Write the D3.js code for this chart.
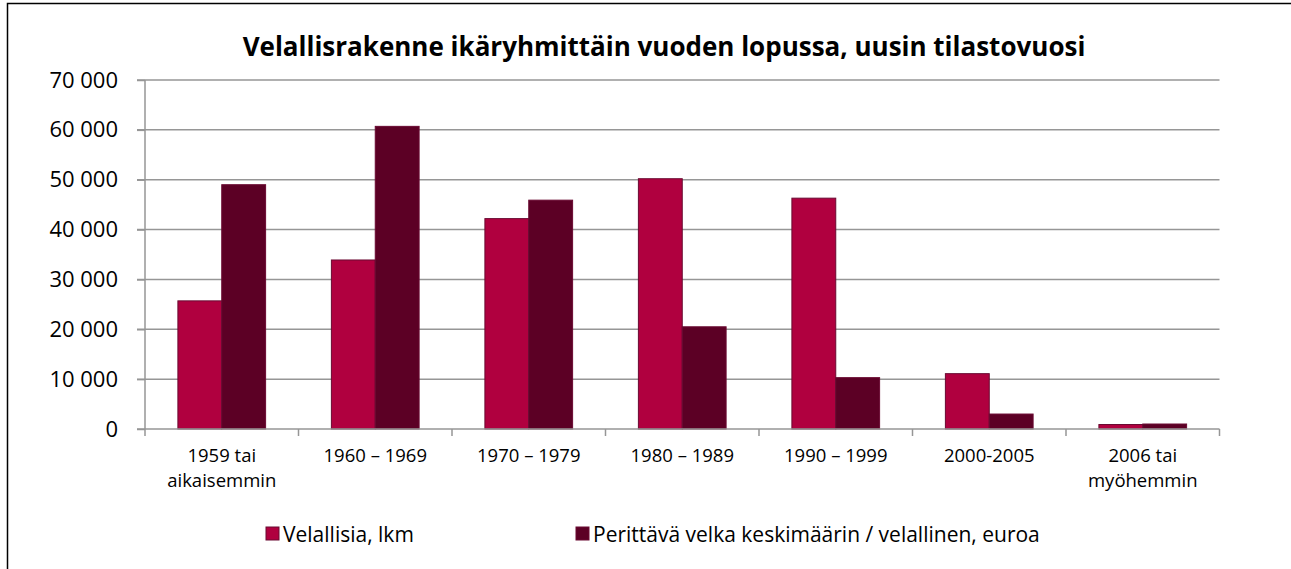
<!DOCTYPE html>
<html><head><meta charset="utf-8">
<script src="https://cdn.jsdelivr.net/npm/d3@7"></script>
<style>body{margin:0;background:#fff}svg{display:block}text{font-family:"Open Sans",sans-serif;fill:#000}</style>
</head><body>
<script>
const title = "Velallisrakenne ikäryhmittäin vuoden lopussa, uusin tilastovuosi";
const categories = [["1959 tai","aikaisemmin"],["1960 – 1969"],["1970 – 1979"],["1980 – 1989"],["1990 – 1999"],["2000-2005"],["2006 tai","myöhemmin"]];
const seriesNames = ["Velallisia, lkm","Perittävä velka keskimäärin / velallinen, euroa"];
const velallisia = [25700, 33900, 42200, 50200, 46300, 11100, 900];
const velka = [49000, 60700, 45900, 20500, 10300, 3000, 1000];
const yTicks = [0,10000,20000,30000,40000,50000,60000,70000];
const colors = ["#B0003F","#5C0025"];

(function(){
const W=1291,H=569;
const svg=d3.select("body").append("svg").attr("width",W).attr("height",H);
svg.append("rect").attr("x",7.5).attr("y",3.5).attr("width",W+10).attr("height",H+10).attr("fill","#fff").attr("stroke","#000").attr("stroke-width",1.5);

const pL=145,pR=1219.5,pT=80,pB=429;
const x=d3.scaleBand().domain(d3.range(categories.length)).range([pL,pR]).paddingInner(0).paddingOuter(0);
const bw=x.bandwidth()/3.5;
const y=d3.scaleLinear().domain([0,70000]).range([pB,pT]);

svg.append("g").selectAll("line").data(yTicks.slice(1)).join("line")
 .attr("x1",pL-8).attr("x2",pR).attr("y1",d=>y(d)).attr("y2",d=>y(d))
 .attr("stroke","#969696").attr("stroke-width",1.5);

const series=[velallisia,velka];
series.forEach((vals,si)=>{
  svg.append("g").selectAll("rect").data(vals).join("rect")
   .attr("x",(d,i)=>x(i)+bw*0.75+si*bw).attr("width",bw)
   .attr("y",d=>y(d)).attr("height",d=>pB-y(d))
   .attr("fill",colors[si]).attr("stroke","#6a0a32").attr("stroke-width",1);
});

const yAxis=d3.axisLeft(y).tickValues(yTicks).tickSize(8).tickPadding(19)
 .tickFormat(d=>d3.format(",")(d).replace(/,/g," "));
const ya=svg.append("g").attr("transform",`translate(${pL},0)`).call(yAxis);
ya.select(".domain").attr("stroke","#969696").attr("stroke-width",1.5).attr("d",`M0,${pT}V${pB}`);
ya.selectAll(".tick line").attr("stroke","#969696").attr("stroke-width",1.5);
ya.selectAll(".tick text").attr("font-size","22px").attr("font-family","Open Sans").attr("fill","#000");

const xa=svg.append("g").attr("transform",`translate(0,${pB})`);
xa.append("line").attr("x1",pL-8).attr("x2",pR).attr("y1",0).attr("y2",0).attr("stroke","#969696").attr("stroke-width",1.5);
xa.selectAll("line.t").data(d3.range(categories.length+1)).join("line").attr("class","t")
 .attr("x1",i=>i<categories.length?x(i):pR).attr("x2",i=>i<categories.length?x(i):pR)
 .attr("y1",0).attr("y2",7).attr("stroke","#969696").attr("stroke-width",1.5);
const lbl=xa.selectAll("text").data(categories).join("text")
 .attr("text-anchor","middle").attr("font-size","18.5px")
 .attr("transform",(d,i)=>`translate(${x(i)+x.bandwidth()/2},33)`);
lbl.selectAll("tspan").data(d=>d).join("tspan").attr("x",0).attr("dy",(d,j)=>j?25:0).text(d=>d);

svg.append("text").attr("x",664).attr("y",56).attr("text-anchor","middle")
 .attr("font-size","26px").attr("font-weight","bold").text(title);

const legX=[266,576];
seriesNames.forEach((n,i)=>{
  svg.append("rect").attr("x",legX[i]).attr("y",527).attr("width",13).attr("height",13)
   .attr("fill",colors[i]).attr("stroke","#6a0a32").attr("stroke-width",1);
  svg.append("text").attr("x",legX[i]+17).attr("y",542).attr("font-size","21px").text(n);
});
})();
</script>
</body></html>
